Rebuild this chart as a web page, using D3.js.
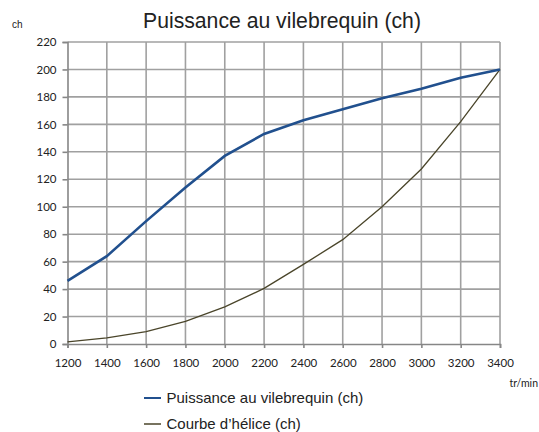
<!DOCTYPE html>
<html>
<head>
    <meta charset="utf-8">
    <title>Puissance au vilebrequin</title>
    <script src="https://d3js.org/d3.v7.min.js"></script>
    <style>
        body {
            margin: 0;
            background: #fff;
        }
        .tick text {
            font-family: Lato, "DejaVu Sans", sans-serif;
            font-size: 11.5px;
            fill: #222;
        }
        .grid line {
            stroke: #a0a0a0;
            stroke-width: 1.6px;
        }
        .legend text, .title {
            font-family: "Liberation Sans", Arial, sans-serif;
            fill: #222;
        }
    </style>
</head>
<body>
    <div id="chart"></div>

    <script>
        // Régime moteur (tr/min)
        const rpm = [1200, 1400, 1600, 1800, 2000, 2200, 2400, 2600, 2800, 3000, 3200, 3400];
        // Puissance au vilebrequin (ch)
        const puissance = [46, 64, 89.5, 114, 137, 153, 163, 171, 179, 186, 194, 200];
        // Courbe d'hélice (ch)
        const helice = [1.5, 4.5, 9, 16.5, 27, 40.5, 58, 76, 100, 127.5, 162, 200];
        const yTicks = [0, 20, 40, 60, 80, 100, 120, 140, 160, 180, 200, 220];

        const width = 539, height = 432;
        const margin = {top: 42, right: 39, bottom: 88, left: 67.5};

        const svg = d3.select("#chart")
            .append("svg")
            .attr("width", width)
            .attr("height", height);

        const x = d3.scaleLinear()
            .domain([1200, 3400])
            .range([margin.left, width - margin.right]);

        const y = d3.scaleLinear()
            .domain([0, 220])
            .range([height - margin.bottom, margin.top]);

        // grille
        const grid = svg.append("g").attr("class", "grid");
        grid.selectAll("line.h")
            .data(yTicks.slice(1))
            .join("line")
            .attr("x1", x.range()[0]).attr("x2", x.range()[1])
            .attr("y1", d => y(d)).attr("y2", d => y(d));
        grid.selectAll("line.v")
            .data(rpm.slice(1))
            .join("line")
            .attr("y1", y.range()[0]).attr("y2", y.range()[1])
            .attr("x1", d => x(d)).attr("x2", d => x(d));

        // axes
        const xAxis = svg.append("g")
            .attr("transform", `translate(0,${y(0)})`)
            .call(d3.axisBottom(x).tickValues(rpm).tickSize(4).tickPadding(11).tickFormat(d3.format("d")));
        const yAxis = svg.append("g")
            .attr("transform", `translate(${x(1200)},0)`)
            .call(d3.axisLeft(y).tickValues(yTicks).tickSize(5).tickPadding(6));

        [xAxis, yAxis].forEach(a => {
            a.select(".domain").attr("stroke", "#868686").attr("stroke-width", 1.6);
            a.selectAll(".tick line").attr("stroke", "#868686").attr("stroke-width", 1.6);
        });

        // courbes
        const line = d3.line()
            .x((d, i) => x(rpm[i]))
            .y(d => y(d));

        svg.append("path")
            .datum(helice)
            .attr("fill", "none")
            .attr("stroke", "#4a452a")
            .attr("stroke-width", 1.3)
            .attr("d", line);

        svg.append("path")
            .datum(puissance)
            .attr("fill", "none")
            .attr("stroke", "#21508e")
            .attr("stroke-width", 2.6)
            .attr("d", line);

        // titres
        svg.append("text")
            .attr("class", "title")
            .attr("x", 282)
            .attr("y", 28)
            .attr("text-anchor", "middle")
            .style("font-size", "21.2px")
            .text("Puissance au vilebrequin (ch)");

        svg.append("text")
            .attr("class", "title")
            .attr("x", 12)
            .attr("y", 28)
            .style("font-size", "10px")
            .text("ch");

        svg.append("text")
            .attr("x", 538)
            .attr("y", 387)
            .attr("text-anchor", "end")
            .style("font-family", "Lato, sans-serif")
            .style("font-size", "10.5px")
            .style("fill", "#222")
            .text("tr/min");

        // légende
        const series = [
            {name: "Puissance au vilebrequin (ch)", color: "#21508e", w: 2},
            {name: "Courbe d\u2019hélice (ch)", color: "#4a452a", w: 1.5}
        ];
        const legend = svg.append("g").attr("class", "legend");
        const item = legend.selectAll("g")
            .data(series)
            .join("g")
            .attr("transform", (d, i) => `translate(144,${398 + i * 26})`);
        item.append("line")
            .attr("x1", 0).attr("x2", 17)
            .attr("stroke", d => d.color)
            .attr("stroke-width", d => d.w);
        item.append("text")
            .attr("x", 22.5)
            .attr("dy", "0.35em")
            .style("font-size", "15px")
            .text(d => d.name);
    </script>
</body>
</html>
